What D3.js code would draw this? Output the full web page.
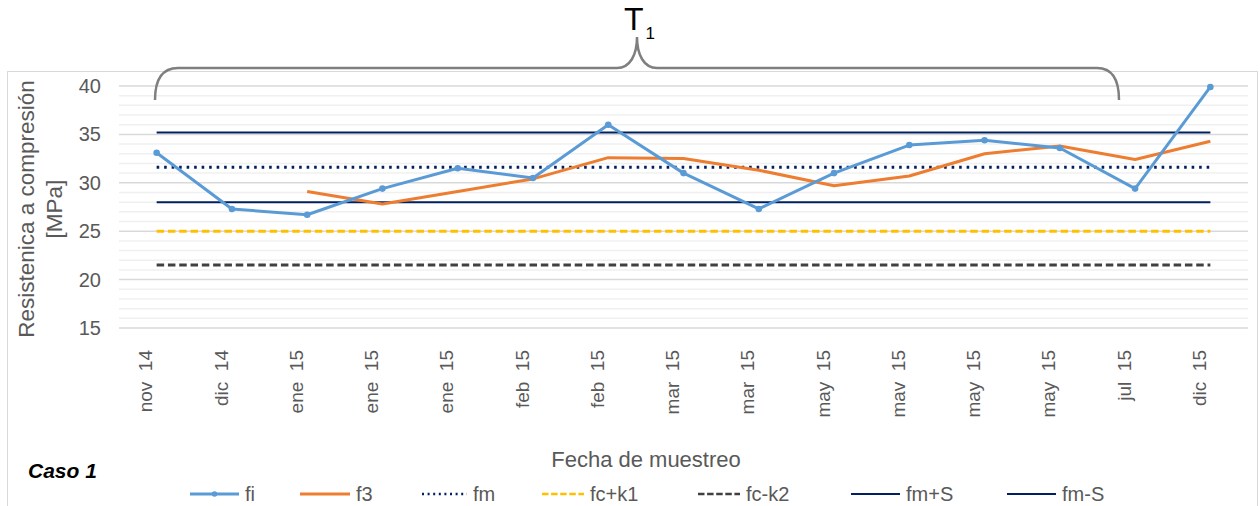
<!DOCTYPE html>
<html>
<head>
<meta charset="utf-8">
<script src="https://cdn.jsdelivr.net/npm/d3@7"></script>
<style>
  html, body { margin: 0; padding: 0; background: #fff; }
  svg { display: block; font-family: "Liberation Sans", Arial, sans-serif; }
</style>
</head>
<body>
<svg id="chart" width="1260" height="506"></svg>
<script>
// Sample dates (category labels, in sampling order)
const fechas = ["nov 14", "dic 14", "ene 15", "ene 15", "ene 15", "feb 15", "feb 15",
  "mar 15", "mar 15", "may 15", "mav 15", "may 15", "may 15", "jul 15", "dic 15"];

// Individual strength fi [MPa]
const fi = [33.1, 27.3, 26.7, 29.4, 31.5, 30.5, 36.0, 31.0, 27.3, 31.0, 33.9, 34.4, 33.6, 29.4, 39.9];
// Moving mean of three results f3 [MPa]
const f3 = [null, null, 29.1, 27.8, 29.1, 30.4, 32.6, 32.5, 31.3, 29.7, 30.7, 33.0, 33.8, 32.4, 34.3];

// Reference levels [MPa]
const fm = 31.6;
const fcMasK1 = 25.0;
const fcMenosK2 = 21.5;
const fmMasS = 35.2;
const fmMenosS = 28.0;

const yTicks = [15, 20, 25, 30, 35, 40];

const svg = d3.select("#chart");
const textColor = "#595959";

// chart frame
svg.append("rect")
  .attr("x", 7.5).attr("y", 71.5).attr("width", 1250).attr("height", 450)
  .attr("fill", "none").attr("stroke", "#d9d9d9").attr("stroke-width", 1);

const idx = d3.range(fechas.length);
const x = d3.scaleBand().domain(idx).range([119, 1248]);
const cx = i => x(i) + x.bandwidth() / 2;
const y = d3.scaleLinear().domain([15, 40]).range([328, 86]);

// gridlines: minor every 1 MPa, major every 5 MPa
const grid = svg.append("g");
grid.selectAll("line.minor")
  .data(d3.range(16, 40).filter(v => v % 5 !== 0))
  .join("line")
  .attr("x1", 119).attr("x2", 1248)
  .attr("y1", d => y(d)).attr("y2", d => y(d))
  .attr("stroke", "#f0f0f0").attr("stroke-width", 1.5);
grid.selectAll("line.major")
  .data(yTicks)
  .join("line")
  .attr("x1", 119).attr("x2", 1248)
  .attr("y1", d => y(d)).attr("y2", d => y(d))
  .attr("stroke", "#d9d9d9").attr("stroke-width", 1.5);

// y axis
const yAxis = svg.append("g")
  .attr("transform", "translate(101,0)")
  .call(d3.axisLeft(y).tickValues(yTicks).tickSize(0).tickPadding(0));
yAxis.select(".domain").remove();
yAxis.selectAll("text")
  .attr("fill", textColor).attr("font-size", 20)
  .attr("font-family", "Liberation Sans, Arial, sans-serif");

// x axis with rotated labels
const xAxis = svg.append("g")
  .attr("transform", "translate(0,350)")
  .call(d3.axisBottom(x).tickFormat(i => fechas[i].replace(" ", "\u00a0\u00a0")).tickSize(0));
xAxis.select(".domain").remove();
xAxis.selectAll("text")
  .attr("fill", textColor).attr("font-size", 19)
  .attr("font-family", "Liberation Sans, Arial, sans-serif")
  .attr("transform", "rotate(-90)")
  .attr("text-anchor", "end")
  .attr("x", 0).attr("y", -11).attr("dy", "0.35em");

// y axis title
const yTitle = svg.append("text")
  .attr("transform", "translate(34,209) rotate(-90)")
  .attr("text-anchor", "middle")
  .attr("fill", textColor).attr("font-size", 22.5);
yTitle.append("tspan").attr("x", 0).attr("dy", 0).text("Resistenica a compresión");
yTitle.append("tspan").attr("x", 0).attr("dy", 28).text("[MPa]");

// x axis title
svg.append("text")
  .attr("x", 646).attr("y", 467)
  .attr("text-anchor", "middle")
  .attr("fill", textColor).attr("font-size", 22)
  .text("Fecha de muestreo");

// case label
svg.append("text")
  .attr("x", 28).attr("y", 478)
  .attr("fill", "#000").attr("font-size", 21)
  .attr("font-weight", "bold").attr("font-style", "italic")
  .text("Caso 1");

// constant reference lines
const refLines = [
  { key: "fc-k2", value: fcMenosK2, color: "#404040", width: 3, dash: "7.5 3.8" },
  { key: "fc+k1", value: fcMasK1, color: "#ffc000", width: 3, dash: "7.5 3.8" },
  { key: "fm-S", value: fmMenosS, color: "#002060", width: 2, dash: null },
  { key: "fm+S", value: fmMasS, color: "#002060", width: 2, dash: null },
  { key: "fm", value: fm, color: "#002060", width: 3, dash: "2.6 4.9" }
];
const lineGen = d3.line()
  .defined(d => d.v != null)
  .x(d => cx(d.i))
  .y(d => y(d.v));

refLines.forEach(r => {
  svg.append("path")
    .datum(idx.map(i => ({ i, v: r.value })))
    .attr("d", lineGen)
    .attr("fill", "none")
    .attr("stroke", r.color)
    .attr("stroke-width", r.width)
    .attr("stroke-dasharray", r.dash);
});

// f3 series
svg.append("path")
  .datum(f3.map((v, i) => ({ i, v })))
  .attr("d", lineGen)
  .attr("fill", "none")
  .attr("stroke", "#ed7d31")
  .attr("stroke-width", 3)
  .attr("stroke-linejoin", "round");

// fi series with markers
svg.append("path")
  .datum(fi.map((v, i) => ({ i, v })))
  .attr("d", lineGen)
  .attr("fill", "none")
  .attr("stroke", "#5b9bd5")
  .attr("stroke-width", 3)
  .attr("stroke-linejoin", "round");
svg.append("g").selectAll("circle")
  .data(fi.map((v, i) => ({ i, v })))
  .join("circle")
  .attr("cx", d => cx(d.i)).attr("cy", d => y(d.v))
  .attr("r", 3.3)
  .attr("fill", "#5b9bd5");

// brace over the T1 period
svg.append("path")
  .attr("d", "M155,100 C155,82 160,68 178,68 L617,68 C630,68 637,55 637,37 " +
             "C637,55 644,68 657,68 L1097,68 C1114,68 1119,82 1119,100")
  .attr("fill", "none")
  .attr("stroke", "#7f7f7f")
  .attr("stroke-width", 2.5);

const t1 = svg.append("text")
  .attr("x", 624).attr("y", 30)
  .attr("fill", "#000").attr("font-size", 32);
t1.append("tspan").text("T");
t1.append("tspan").attr("dx", 2).attr("dy", 9).attr("font-size", 17).text("1");

// legend
const legendItems = [
  { label: "fi", x: 190, w: 49, color: "#5b9bd5", width: 3, dash: null, marker: true },
  { label: "f3", x: 300, w: 50, color: "#ed7d31", width: 3, dash: null },
  { label: "fm", x: 422, w: 45, color: "#002060", width: 2.5, dash: "2 3.6" },
  { label: "fc+k1", x: 542, w: 42, color: "#ffc000", width: 2.5, dash: "6.5 2.6" },
  { label: "fc-k2", x: 698, w: 42, color: "#404040", width: 2.5, dash: "6.5 2.6" },
  { label: "fm+S", x: 851, w: 49, color: "#002060", width: 2, dash: null },
  { label: "fm-S", x: 1007, w: 49, color: "#002060", width: 2, dash: null }
];
const legend = svg.append("g");
legendItems.forEach(it => {
  const g = legend.append("g").attr("transform", `translate(${it.x},494)`);
  g.append("line")
    .attr("x1", 0).attr("x2", it.w)
    .attr("stroke", it.color).attr("stroke-width", it.width)
    .attr("stroke-dasharray", it.dash);
  if (it.marker) {
    g.append("circle").attr("cx", it.w / 2).attr("r", 2.8).attr("fill", it.color);
  }
  g.append("text")
    .attr("x", it.w + 6).attr("y", 0).attr("dy", "0.36em")
    .attr("fill", textColor).attr("font-size", 20)
    .text(it.label);
});
</script>
</body>
</html>
